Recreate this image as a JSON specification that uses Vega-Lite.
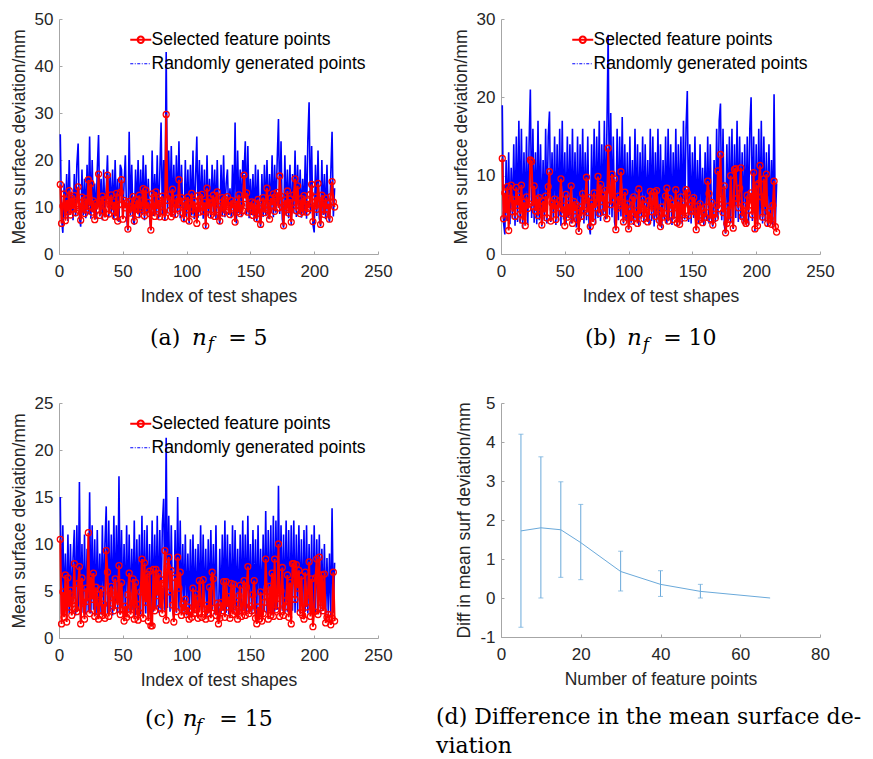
{
"$schema": "https://vega.github.io/schema/vega-lite/v6.json",
"background": "white",
"padding": {"left": 10, "top": 10, "right": 5, "bottom": 0},
"bounds": "flush",
"columns": 2,
"spacing": {"row": 149, "column": 123},
"resolve": {"scale": {"color": "independent", "x": "independent", "y": "independent"}, "legend": {"color": "independent"}},
"config": {
  "view": {"stroke": null},
  "axis": {"labelFont": "Liberation Sans", "labelFontSize": 17, "labelColor": "#262626", "titleFont": "Liberation Sans", "titleFontSize": 17.5, "titleFontWeight": "normal", "titleColor": "#262626", "domainColor": "#a6a6a6", "tickColor": "#a6a6a6", "tickSize": -3, "grid": false, "labelFlush": false, "labelOverlap": false},
  "axisX": {"labelPadding": 12, "titlePadding": 8},
  "axisY": {"labelPadding": 9, "titlePadding": 6},
  "legend": {"orient": "top-right", "offset": 11, "padding": 1, "labelFont": "Liberation Sans", "labelFontSize": 17.5, "labelColor": "#000000", "labelLimit": 0, "symbolSize": 441, "rowPadding": 5, "labelOffset": 2, "symbolStrokeWidth": 1.5}
},
"datasets": {
"s": [
{"i":1,"ra":14.8,"ba":25.5,"rb":12.2,"bb":19,"rc":10.5,"bc":15},
{"i":2,"ra":6.5,"ba":7.5,"rb":4.5,"bb":4,"rc":1.5,"bc":2.5},
{"i":3,"ra":10.2,"ba":4.5,"rb":7.8,"bb":2.5,"rc":4.9,"bc":12},
{"i":4,"ra":12.8,"ba":15,"rb":5.2,"bb":12,"rc":2.2,"bc":2.8},
{"i":5,"ra":7.1,"ba":8,"rb":8.6,"bb":4.2,"rc":6.7,"bc":9},
{"i":6,"ra":11.5,"ba":17,"rb":3.0,"bb":13,"rc":1.7,"bc":2.3},
{"i":7,"ra":9.0,"ba":7,"rb":7.1,"bb":3.8,"rc":6.4,"bc":11},
{"i":8,"ra":13.5,"ba":20,"rb":8.8,"bb":11,"rc":3.3,"bc":2.6},
{"i":9,"ra":8.3,"ba":8.5,"rb":5.4,"bb":4.5,"rc":5.1,"bc":10},
{"i":10,"ra":11.9,"ba":13,"rb":6.9,"bb":14,"rc":2.4,"bc":3},
{"i":11,"ra":9.6,"ba":7.2,"rb":4.8,"bb":3.6,"rc":4.0,"bc":8.5},
{"i":12,"ra":12.4,"ba":17,"rb":8.5,"bb":15,"rc":7.9,"bc":11.5},
{"i":13,"ra":8.8,"ba":8,"rb":6.2,"bb":4.1,"rc":3.1,"bc":2.4},
{"i":14,"ra":10.7,"ba":19,"rb":7.4,"bb":17,"rc":2.8,"bc":12},
{"i":15,"ra":14.3,"ba":23.5,"rb":5.1,"bb":3.9,"rc":5.8,"bc":2.9},
{"i":16,"ra":9.2,"ba":7.8,"rb":8.8,"bb":16,"rc":7.6,"bc":16.6},
{"i":17,"ra":7.2,"ba":5.8,"rb":4.3,"bb":3.3,"rc":1.5,"bc":2},
{"i":18,"ra":12.1,"ba":18,"rb":6.6,"bb":13,"rc":6.4,"bc":10},
{"i":19,"ra":10.3,"ba":8.2,"rb":3.6,"bb":4.4,"rc":3.7,"bc":2.7},
{"i":20,"ra":8.6,"ba":16,"rb":7.3,"bb":15,"rc":2.0,"bc":11},
{"i":21,"ra":11.8,"ba":7.6,"rb":5.8,"bb":3.7,"rc":5.3,"bc":2.5},
{"i":22,"ra":9.4,"ba":19,"rb":6.4,"bb":14,"rc":3.9,"bc":9.5},
{"i":23,"ra":15.8,"ba":8.4,"rb":12.0,"bb":21,"rc":11.2,"bc":2.8},
{"i":24,"ra":10.1,"ba":25,"rb":11.8,"bb":4.6,"rc":2.6,"bc":15.5},
{"i":25,"ra":15.0,"ba":7.5,"rb":6.1,"bb":16,"rc":6.5,"bc":2.6},
{"i":26,"ra":8.9,"ba":20,"rb":8.7,"bb":4,"rc":4.1,"bc":12},
{"i":27,"ra":11.3,"ba":8.8,"rb":5.5,"bb":13,"rc":6.9,"bc":3},
{"i":28,"ra":7.3,"ba":15,"rb":7.0,"bb":3.8,"rc":2.3,"bc":10.5},
{"i":29,"ra":10.8,"ba":7.4,"rb":4.9,"bb":17,"rc":5.4,"bc":2.4},
{"i":30,"ra":9.5,"ba":18,"rb":7.2,"bb":4.3,"rc":3.8,"bc":11.5},
{"i":31,"ra":17.0,"ba":25.3,"rb":6.0,"bb":14,"rc":2.0,"bc":2.7},
{"i":32,"ra":8.2,"ba":8,"rb":3.7,"bb":3.5,"rc":4.6,"bc":9},
{"i":33,"ra":10.6,"ba":16,"rb":6.8,"bb":12,"rc":5.2,"bc":2.5},
{"i":34,"ra":12.3,"ba":7.2,"rb":5.3,"bb":4.2,"rc":2.4,"bc":12},
{"i":35,"ra":9.1,"ba":18,"rb":7.4,"bb":16,"rc":3.6,"bc":2.9},
{"i":36,"ra":7.8,"ba":8.5,"rb":4.6,"bb":3.9,"rc":2.1,"bc":10},
{"i":37,"ra":11.7,"ba":14,"rb":8.6,"bb":15,"rc":9.3,"bc":14},
{"i":38,"ra":16.8,"ba":21,"rb":10.5,"bb":18.2,"rc":7.0,"bc":2.6},
{"i":39,"ra":8.5,"ba":7.8,"rb":4.2,"bb":4.1,"rc":2.3,"bc":12.5},
{"i":40,"ra":10.4,"ba":17,"rb":6.5,"bb":13,"rc":4.8,"bc":2.8},
{"i":41,"ra":12.6,"ba":8.6,"rb":5.7,"bb":4.5,"rc":5.5,"bc":11},
{"i":42,"ra":9.3,"ba":18,"rb":7.0,"bb":15,"rc":3.7,"bc":2.4},
{"i":43,"ra":11.1,"ba":7.3,"rb":4.4,"bb":3.7,"rc":2.9,"bc":13},
{"i":44,"ra":8.0,"ba":20,"rb":6.3,"bb":14,"rc":6.3,"bc":3.1},
{"i":45,"ra":12.9,"ba":8.1,"rb":5.9,"bb":4.2,"rc":4.2,"bc":12},
{"i":46,"ra":7.0,"ba":16,"rb":6.8,"bb":16,"rc":3.5,"bc":2.7},
{"i":47,"ra":10.5,"ba":6.8,"rb":9.6,"bb":3.6,"rc":7.7,"bc":17.2},
{"i":48,"ra":13.1,"ba":19,"rb":5.2,"bb":17,"rc":2.5,"bc":2.5},
{"i":49,"ra":15.8,"ba":18,"rb":6.1,"bb":4.4,"rc":5.9,"bc":11.5},
{"i":50,"ra":7.4,"ba":7.5,"rb":3.6,"bb":13,"rc":3.0,"bc":2.9},
{"i":51,"ra":11.4,"ba":15,"rb":7.6,"bb":3.8,"rc":1.8,"bc":10},
{"i":52,"ra":9.8,"ba":21,"rb":4.7,"bb":15,"rc":3.4,"bc":2.3},
{"i":53,"ra":10.9,"ba":7.9,"rb":6.4,"bb":4.6,"rc":2.2,"bc":12},
{"i":54,"ra":5.3,"ba":5,"rb":5.0,"bb":14,"rc":4.6,"bc":2.8},
{"i":55,"ra":11.2,"ba":26,"rb":8.7,"bb":3.9,"rc":6.9,"bc":11},
{"i":56,"ra":8.7,"ba":8.2,"rb":3.9,"bb":16,"rc":2.5,"bc":2.6},
{"i":57,"ra":10.0,"ba":19,"rb":6.7,"bb":4.2,"rc":3.3,"bc":9.5},
{"i":58,"ra":12.2,"ba":7.4,"rb":5.5,"bb":13,"rc":6.3,"bc":3},
{"i":59,"ra":7.0,"ba":6.2,"rb":6.3,"bb":3.4,"rc":2.0,"bc":12.5},
{"i":60,"ra":9.9,"ba":18,"rb":4.4,"bb":15,"rc":5.9,"bc":2.4},
{"i":61,"ra":11.6,"ba":8.7,"rb":2.9,"bb":2.8,"rc":3.6,"bc":10.5},
{"i":62,"ra":8.4,"ba":20,"rb":6.0,"bb":14,"rc":1.9,"bc":2.7},
{"i":63,"ra":12.5,"ba":7.6,"rb":4.8,"bb":4.5,"rc":2.7,"bc":11},
{"i":64,"ra":9.7,"ba":18,"rb":7.7,"bb":16,"rc":4.9,"bc":2.5},
{"i":65,"ra":10.3,"ba":8.3,"rb":5.6,"bb":3.9,"rc":8.4,"bc":13},
{"i":66,"ra":13.9,"ba":21,"rb":6.9,"bb":13,"rc":2.1,"bc":2.9},
{"i":67,"ra":8.1,"ba":7.2,"rb":9.8,"bb":4.3,"rc":8.0,"bc":11.5},
{"i":68,"ra":13.6,"ba":19,"rb":5.3,"bb":15,"rc":3.8,"bc":2.6},
{"i":69,"ra":9.5,"ba":8.5,"rb":7.2,"bb":3.6,"rc":6.8,"bc":12},
{"i":70,"ra":11.0,"ba":16,"rb":3.5,"bb":2.5,"rc":1.8,"bc":2.2},
{"i":71,"ra":8.6,"ba":7.7,"rb":6.5,"bb":14,"rc":7.1,"bc":10},
{"i":72,"ra":5.1,"ba":5,"rb":4.1,"bb":4.1,"rc":1.3,"bc":1.8},
{"i":73,"ra":12.8,"ba":22,"rb":7.8,"bb":16,"rc":1.3,"bc":12.5},
{"i":74,"ra":10.2,"ba":8.1,"rb":5.9,"bb":3.8,"rc":7.3,"bc":2.8},
{"i":75,"ra":8.0,"ba":17,"rb":6.6,"bb":15,"rc":2.9,"bc":11},
{"i":76,"ra":13.2,"ba":8.4,"rb":9.9,"bb":4.6,"rc":7.3,"bc":3.1},
{"i":77,"ra":9.6,"ba":21,"rb":5.2,"bb":17,"rc":4.5,"bc":13},
{"i":78,"ra":11.5,"ba":7.5,"rb":8.9,"bb":4.2,"rc":6.9,"bc":2.7},
{"i":79,"ra":7.9,"ba":17,"rb":6.7,"bb":14,"rc":3.2,"bc":11.5},
{"i":80,"ra":10.8,"ba":28,"rb":7.5,"bb":4.9,"rc":6.2,"bc":3},
{"i":81,"ra":12.3,"ba":8.2,"rb":5.4,"bb":17,"rc":2.6,"bc":12},
{"i":82,"ra":9.0,"ba":20,"rb":8.1,"bb":4.4,"rc":5.8,"bc":14.8},
{"i":83,"ra":7.8,"ba":7,"rb":4.5,"bb":16,"rc":9.3,"bc":2.9},
{"i":84,"ra":29.7,"ba":43,"rb":13.5,"bb":28,"rc":1.9,"bc":21.3},
{"i":85,"ra":11.4,"ba":8.6,"rb":8.2,"bb":5,"rc":7.6,"bc":3.2},
{"i":86,"ra":12.6,"ba":22,"rb":6.3,"bb":18,"rc":8.6,"bc":13},
{"i":87,"ra":9.3,"ba":9,"rb":10.2,"bb":4.7,"rc":4.9,"bc":2.8},
{"i":88,"ra":7.9,"ba":23,"rb":7.0,"bb":15,"rc":7.2,"bc":12},
{"i":89,"ra":13.8,"ba":8.3,"rb":9.6,"bb":4.1,"rc":3.5,"bc":3},
{"i":90,"ra":10.7,"ba":19,"rb":3.1,"bb":3,"rc":1.7,"bc":2.2},
{"i":91,"ra":8.4,"ba":7.8,"rb":5.8,"bb":16,"rc":6.4,"bc":11.5},
{"i":92,"ra":11.9,"ba":21,"rb":7.4,"bb":4.3,"rc":2.8,"bc":2.7},
{"i":93,"ra":9.7,"ba":8.5,"rb":6.2,"bb":15,"rc":8.6,"bc":15},
{"i":94,"ra":15.8,"ba":24,"rb":10.5,"bb":4.8,"rc":5.3,"bc":2.9},
{"i":95,"ra":10.5,"ba":7.6,"rb":6.6,"bb":17.5,"rc":7.0,"bc":12.5},
{"i":96,"ra":12.0,"ba":19,"rb":4.1,"bb":3.9,"rc":2.4,"bc":2.6},
{"i":97,"ra":8.8,"ba":8.8,"rb":7.9,"bb":14,"rc":3.6,"bc":10},
{"i":98,"ra":7.5,"ba":6.8,"rb":5.0,"bb":4.2,"rc":2.9,"bc":2.8},
{"i":99,"ra":11.3,"ba":20,"rb":6.4,"bb":13,"rc":4.1,"bc":11},
{"i":100,"ra":9.4,"ba":7.9,"rb":3.2,"bb":3.1,"rc":2.5,"bc":2.4},
{"i":101,"ra":12.1,"ba":18,"rb":5.6,"bb":15,"rc":3.3,"bc":9},
{"i":102,"ra":7.0,"ba":6.5,"rb":4.2,"bb":4,"rc":2.0,"bc":2.6},
{"i":103,"ra":10.6,"ba":19,"rb":6.9,"bb":12,"rc":2.8,"bc":10.5},
{"i":104,"ra":12.9,"ba":8.2,"rb":7.3,"bb":3.7,"rc":2.2,"bc":2.3},
{"i":105,"ra":8.5,"ba":22,"rb":4.6,"bb":16,"rc":5.3,"bc":11},
{"i":106,"ra":11.2,"ba":7.4,"rb":5.5,"bb":4.3,"rc":2.6,"bc":2.8},
{"i":107,"ra":9.9,"ba":16,"rb":3.9,"bb":14,"rc":4.7,"bc":9.5},
{"i":108,"ra":6.5,"ba":25,"rb":8.3,"bb":3.6,"rc":3.0,"bc":2.5},
{"i":109,"ra":12.4,"ba":7.7,"rb":5.1,"bb":13,"rc":2.1,"bc":10},
{"i":110,"ra":8.9,"ba":20,"rb":6.0,"bb":4.5,"rc":6.1,"bc":2.9},
{"i":111,"ra":10.4,"ba":8.4,"rb":7.0,"bb":15,"rc":3.8,"bc":12},
{"i":112,"ra":12.7,"ba":19,"rb":4.5,"bb":3.9,"rc":2.2,"bc":2.6},
{"i":113,"ra":9.1,"ba":7.5,"rb":6.2,"bb":14,"rc":6.2,"bc":11},
{"i":114,"ra":11.0,"ba":18,"rb":5.3,"bb":4.4,"rc":3.1,"bc":2.8},
{"i":115,"ra":6.0,"ba":5.5,"rb":4.1,"bb":12,"rc":2.0,"bc":9.5},
{"i":116,"ra":14.0,"ba":21,"rb":6.8,"bb":3.8,"rc":3.5,"bc":2.4},
{"i":117,"ra":9.6,"ba":8.1,"rb":8.0,"bb":16,"rc":2.6,"bc":10.5},
{"i":118,"ra":11.8,"ba":16,"rb":5.4,"bb":4.2,"rc":5.4,"bc":2.7},
{"i":119,"ra":8.3,"ba":7.6,"rb":6.3,"bb":15,"rc":2.1,"bc":11.5},
{"i":120,"ra":10.9,"ba":19,"rb":7.9,"bb":3.5,"rc":7.0,"bc":3},
{"i":121,"ra":12.5,"ba":8.9,"rb":4.8,"bb":13,"rc":6.3,"bc":10},
{"i":122,"ra":8.0,"ba":18,"rb":8.1,"bb":4.1,"rc":3.2,"bc":2.5},
{"i":123,"ra":11.1,"ba":7.3,"rb":5.7,"bb":16,"rc":2.4,"bc":12},
{"i":124,"ra":13.2,"ba":20,"rb":4.3,"bb":3.6,"rc":3.7,"bc":2.8},
{"i":125,"ra":9.4,"ba":8.5,"rb":3.5,"bb":14,"rc":1.5,"bc":2},
{"i":126,"ra":7.0,"ba":6.4,"rb":6.0,"bb":3.3,"rc":2.1,"bc":9.5},
{"i":127,"ra":10.2,"ba":19,"rb":4.7,"bb":12,"rc":3.8,"bc":2.6},
{"i":128,"ra":12.0,"ba":8,"rb":5.2,"bb":4.4,"rc":2.9,"bc":11},
{"i":129,"ra":8.7,"ba":21,"rb":7.4,"bb":15,"rc":6.0,"bc":2.9},
{"i":130,"ra":11.6,"ba":7.8,"rb":8.4,"bb":3.9,"rc":2.2,"bc":12.5},
{"i":131,"ra":9.3,"ba":15,"rb":4.2,"bb":16,"rc":6.0,"bc":2.7},
{"i":132,"ra":12.2,"ba":18,"rb":7.1,"bb":4.3,"rc":3.3,"bc":11},
{"i":133,"ra":10.0,"ba":8.3,"rb":5.8,"bb":14,"rc":4.4,"bc":2.5},
{"i":134,"ra":8.4,"ba":14,"rb":6.5,"bb":3.7,"rc":2.1,"bc":10},
{"i":135,"ra":11.4,"ba":7.6,"rb":4.4,"bb":13,"rc":5.8,"bc":2.8},
{"i":136,"ra":9.8,"ba":19,"rb":5.9,"bb":4.5,"rc":2.5,"bc":12},
{"i":137,"ra":10.7,"ba":8.2,"rb":8.2,"bb":16,"rc":5.7,"bc":2.6},
{"i":138,"ra":6.8,"ba":28,"rb":4.0,"bb":3.5,"rc":3.6,"bc":11.5},
{"i":139,"ra":11.3,"ba":6.5,"rb":6.7,"bb":14,"rc":2.8,"bc":2.9},
{"i":140,"ra":9.0,"ba":22,"rb":3.8,"bb":4.2,"rc":2.0,"bc":9.5},
{"i":141,"ra":12.6,"ba":8.7,"rb":7.3,"bb":15,"rc":4.5,"bc":2.4},
{"i":142,"ra":8.6,"ba":18,"rb":5.0,"bb":3.8,"rc":5.6,"bc":11},
{"i":143,"ra":10.5,"ba":7.8,"rb":6.4,"bb":17,"rc":2.3,"bc":2.7},
{"i":144,"ra":9.2,"ba":20,"rb":4.6,"bb":4.4,"rc":3.2,"bc":12.5},
{"i":145,"ra":16.8,"ba":17,"rb":8.2,"bb":16,"rc":6.1,"bc":2.9},
{"i":146,"ra":11.8,"ba":24,"rb":7.8,"bb":20.8,"rc":2.4,"bc":11},
{"i":147,"ra":13.0,"ba":8.4,"rb":4.9,"bb":4.1,"rc":5.4,"bc":2.6},
{"i":148,"ra":8.9,"ba":23,"rb":6.2,"bb":14,"rc":7.6,"bc":13},
{"i":149,"ra":10.3,"ba":7.6,"rb":5.5,"bb":3.9,"rc":2.6,"bc":2.8},
{"i":150,"ra":9.5,"ba":16,"rb":6.8,"bb":13,"rc":3.4,"bc":10},
{"i":151,"ra":11.1,"ba":8.3,"rb":7.2,"bb":4.6,"rc":2.9,"bc":2.5},
{"i":152,"ra":8.2,"ba":17,"rb":5.4,"bb":15,"rc":4.6,"bc":11.5},
{"i":153,"ra":10.8,"ba":7.2,"rb":3.1,"bb":3,"rc":6.1,"bc":2.9},
{"i":154,"ra":9.0,"ba":19,"rb":6.1,"bb":12,"rc":2.1,"bc":10.5},
{"i":155,"ra":7.5,"ba":6.9,"rb":4.3,"bb":3.8,"rc":1.5,"bc":2.1},
{"i":156,"ra":11.6,"ba":18,"rb":6.4,"bb":14,"rc":3.3,"bc":12},
{"i":157,"ra":10.1,"ba":8.1,"rb":5.7,"bb":4.3,"rc":2.0,"bc":2.7},
{"i":158,"ra":6.3,"ba":5.8,"rb":4.0,"bb":11,"rc":4.9,"bc":9.5},
{"i":159,"ra":9.7,"ba":17,"rb":5.2,"bb":3.6,"rc":1.8,"bc":2.4},
{"i":160,"ra":12.0,"ba":7.9,"rb":4.7,"bb":13,"rc":2.6,"bc":11},
{"i":161,"ra":8.8,"ba":19,"rb":6.0,"bb":4.2,"rc":3.8,"bc":2.8},
{"i":162,"ra":10.6,"ba":8.2,"rb":9.3,"bb":15,"rc":8.4,"bc":13.5},
{"i":163,"ra":14.0,"ba":20,"rb":7.7,"bb":3.9,"rc":4.4,"bc":2.6},
{"i":164,"ra":9.3,"ba":7.5,"rb":4.5,"bb":14,"rc":2.0,"bc":11.5},
{"i":165,"ra":7.4,"ba":17,"rb":6.6,"bb":4.4,"rc":5.5,"bc":2.9},
{"i":166,"ra":11.9,"ba":8.6,"rb":3.7,"bb":3.5,"rc":2.4,"bc":12},
{"i":167,"ra":10.4,"ba":21,"rb":5.1,"bb":12,"rc":6.9,"bc":2.5},
{"i":168,"ra":12.8,"ba":7.8,"rb":4.6,"bb":4.1,"rc":2.3,"bc":13},
{"i":169,"ra":9.1,"ba":19,"rb":6.2,"bb":16,"rc":8.4,"bc":2.8},
{"i":170,"ra":11.2,"ba":8.8,"rb":10.6,"bb":4.5,"rc":3.0,"bc":12.5},
{"i":171,"ra":13.1,"ba":20,"rb":5.8,"bb":17,"rc":4.2,"bc":3},
{"i":172,"ra":9.8,"ba":28.7,"rb":12.7,"bb":19.2,"rc":10.0,"bc":16.2},
{"i":173,"ra":16.6,"ba":8.5,"rb":7.0,"bb":4.3,"rc":2.3,"bc":2.7},
{"i":174,"ra":12.3,"ba":24,"rb":5.3,"bb":16,"rc":5.0,"bc":12},
{"i":175,"ra":10.0,"ba":7.4,"rb":8.7,"bb":3.7,"rc":7.5,"bc":2.9},
{"i":176,"ra":6.0,"ba":5.6,"rb":2.7,"bb":2.6,"rc":2.4,"bc":11},
{"i":177,"ra":11.5,"ba":21,"rb":3.9,"bb":14,"rc":3.3,"bc":2.6},
{"i":178,"ra":9.4,"ba":8.2,"rb":6.1,"bb":4.2,"rc":4.0,"bc":12.5},
{"i":179,"ra":13.4,"ba":18,"rb":4.4,"bb":15,"rc":6.7,"bc":2.8},
{"i":180,"ra":8.7,"ba":7.6,"rb":10.0,"bb":3.9,"rc":2.2,"bc":11.5},
{"i":181,"ra":11.7,"ba":19,"rb":6.4,"bb":16,"rc":5.9,"bc":2.5},
{"i":182,"ra":6.8,"ba":6.2,"rb":3.3,"bb":3.2,"rc":1.5,"bc":12},
{"i":183,"ra":10.9,"ba":17,"rb":10.8,"bb":14,"rc":7.9,"bc":2.9},
{"i":184,"ra":12.6,"ba":8.7,"rb":10.9,"bb":4.6,"rc":7.9,"bc":12.5},
{"i":185,"ra":16.0,"ba":22,"rb":7.1,"bb":17,"rc":4.1,"bc":2.7},
{"i":186,"ra":9.2,"ba":7.9,"rb":5.9,"bb":4.1,"rc":7.8,"bc":11},
{"i":187,"ra":14.5,"ba":19,"rb":8.4,"bb":15,"rc":5.3,"bc":2.8},
{"i":188,"ra":10.3,"ba":8.4,"rb":11.0,"bb":4.4,"rc":7.2,"bc":12},
{"i":189,"ra":8.6,"ba":18,"rb":4.8,"bb":13,"rc":2.7,"bc":2.6},
{"i":190,"ra":11.8,"ba":7.7,"rb":6.2,"bb":3.8,"rc":6.6,"bc":10.5},
{"i":191,"ra":9.0,"ba":16,"rb":4.2,"bb":14,"rc":2.4,"bc":2.4},
{"i":192,"ra":12.4,"ba":8.3,"rb":3.9,"bb":4.3,"rc":2.0,"bc":11.5},
{"i":193,"ra":10.6,"ba":21,"rb":7.5,"bb":15,"rc":7.0,"bc":2.8},
{"i":194,"ra":8.9,"ba":7.5,"rb":5.6,"bb":3.7,"rc":3.3,"bc":12},
{"i":195,"ra":11.3,"ba":24,"rb":6.9,"bb":16,"rc":4.6,"bc":2.6},
{"i":196,"ra":9.7,"ba":32.3,"rb":7.8,"bb":20,"rc":8.1,"bc":10},
{"i":197,"ra":12.7,"ba":8.6,"rb":5.0,"bb":4.2,"rc":2.3,"bc":2.9},
{"i":198,"ra":14.8,"ba":23,"rb":10.4,"bb":15,"rc":6.3,"bc":11},
{"i":199,"ra":6.9,"ba":6.3,"rb":3.2,"bb":2.9,"rc":1.2,"bc":1.9},
{"i":200,"ra":10.2,"ba":4.6,"rb":8.8,"bb":14,"rc":2.8,"bc":12},
{"i":201,"ra":12.1,"ba":19,"rb":3.6,"bb":3.6,"rc":6.4,"bc":2.7},
{"i":202,"ra":9.5,"ba":8.1,"rb":9.0,"bb":16,"rc":8.4,"bc":10.5},
{"i":203,"ra":15.0,"ba":22,"rb":11.3,"bb":4.4,"rc":2.5,"bc":2.8},
{"i":204,"ra":11.0,"ba":7.6,"rb":7.3,"bb":17,"rc":8.6,"bc":11},
{"i":205,"ra":6.3,"ba":5.9,"rb":4.7,"bb":3.9,"rc":3.2,"bc":2.5},
{"i":206,"ra":12.5,"ba":20,"rb":9.6,"bb":15,"rc":6.7,"bc":9.5},
{"i":207,"ra":10.8,"ba":8.3,"rb":6.0,"bb":4.2,"rc":2.9,"bc":2.9},
{"i":208,"ra":8.4,"ba":17,"rb":10.2,"bb":13,"rc":6.8,"bc":10},
{"i":209,"ra":11.9,"ba":7.4,"rb":3.9,"bb":3.5,"rc":1.6,"bc":2.4},
{"i":210,"ra":9.6,"ba":19,"rb":5.4,"bb":14,"rc":2.2,"bc":8.5},
{"i":211,"ra":10.7,"ba":8.5,"rb":4.5,"bb":3.8,"rc":2.5,"bc":2.6},
{"i":212,"ra":7.4,"ba":6.8,"rb":3.8,"bb":12,"rc":2.0,"bc":9},
{"i":213,"ra":12.2,"ba":17,"rb":6.2,"bb":3.3,"rc":1.4,"bc":2.2},
{"i":214,"ra":15.4,"ba":26,"rb":9.3,"bb":20.4,"rc":2.1,"bc":13.8},
{"i":215,"ra":11.1,"ba":8,"rb":3.5,"bb":4,"rc":7.0,"bc":2.7},
{"i":216,"ra":10.0,"ba":14,"rb":2.8,"bb":9,"rc":1.8,"bc":8}
],
"d": [
{"n":5,"m":1.72,"lo":-0.75,"hi":4.2},
{"n":10,"m":1.8,"lo":0,"hi":3.62},
{"n":15,"m":1.75,"lo":0.53,"hi":2.98},
{"n":20,"m":1.42,"lo":0.47,"hi":2.4},
{"n":30,"m":0.68,"lo":0.18,"hi":1.2},
{"n":40,"m":0.35,"lo":0.04,"hi":0.7},
{"n":50,"m":0.17,"lo":0,"hi":0.35},
{"n":67.5,"m":0}
]
},
"concat": [
{
  "width": 319, "height": 235,
  "data": {"name": "s"},
  "layer": [
    {"mark": {"type": "line", "strokeWidth": 1.6},
     "encoding": {
       "x": {"field": "i", "type": "quantitative", "scale": {"domain": [0, 250], "nice": false}, "axis": {"values": [0, 50, 100, 150, 200, 250], "tickCount": 10, "format": "d", "title": "Index of test shapes"}},
       "y": {"field": "ba", "type": "quantitative", "scale": {"domain": [0, 50], "nice": false}, "axis": {"values": [0, 10, 20, 30, 40, 50], "tickCount": 10, "format": "d", "title": "Mean surface deviation/mm"}},
       "color": {"datum": "Randomly generated points", "type": "nominal", "scale": {"domain": ["Selected feature points", "Randomly generated points"], "range": ["#ff0000", "#0000ff"]},
         "legend": {"title": null, "encode": {"symbols": {"update": {
           "shape": {"signal": "datum.value === 'Selected feature points' ? 'M-1,0H1M0.3,0A0.3,0.3,0,1,1,-0.3,0A0.3,0.3,0,1,1,0.3,0' : 'M-1,0H1'"},
           "strokeDash": {"signal": "datum.value === 'Selected feature points' ? [] : [3,1.5,1,1.5]"},
           "strokeWidth": {"signal": "datum.value === 'Selected feature points' ? 2 : 1"},
           "fill": {"value": "transparent"}}}}}}
     }},
    {"mark": {"type": "line", "strokeWidth": 2, "point": {"filled": false, "size": 36, "strokeWidth": 1.3}},
     "encoding": {
       "x": {"field": "i", "type": "quantitative", "scale": {"domain": [0, 250], "nice": false}, "axis": {"values": [0, 50, 100, 150, 200, 250], "tickCount": 10, "format": "d", "title": "Index of test shapes"}},
       "y": {"field": "ra", "type": "quantitative", "scale": {"domain": [0, 50], "nice": false}, "axis": {"values": [0, 10, 20, 30, 40, 50], "tickCount": 10, "format": "d", "title": "Mean surface deviation/mm"}},
       "color": {"datum": "Selected feature points", "type": "nominal"}
     }},
    {"data": {"values": [{}]}, "mark": {"type": "text", "font": "DejaVu Serif", "fontSize": 22, "align": "left", "baseline": "alphabetic", "color": "#000000", "text": "(a)"},
     "encoding": {"x": {"datum": 71.3, "type": "quantitative"}, "y": {"datum": -19.3, "type": "quantitative"}}},
    {"data": {"values": [{}]}, "mark": {"type": "text", "font": "DejaVu Serif", "fontStyle": "italic", "fontSize": 23, "align": "left", "baseline": "alphabetic", "color": "#000000", "text": "n"},
     "encoding": {"x": {"datum": 104.2, "type": "quantitative"}, "y": {"datum": -19.3, "type": "quantitative"}}},
    {"data": {"values": [{}]}, "mark": {"type": "text", "font": "DejaVu Serif", "fontStyle": "italic", "fontSize": 17, "align": "left", "baseline": "alphabetic", "color": "#000000", "text": "f"},
     "encoding": {"x": {"datum": 116.5, "type": "quantitative"}, "y": {"datum": -20.3, "type": "quantitative"}}},
    {"data": {"values": [{}]}, "mark": {"type": "text", "font": "DejaVu Serif", "fontSize": 22, "align": "left", "baseline": "alphabetic", "color": "#000000", "text": "= 5"},
     "encoding": {"x": {"datum": 132.6, "type": "quantitative"}, "y": {"datum": -19.3, "type": "quantitative"}}}
  ]
},
{
  "width": 319, "height": 235,
  "data": {"name": "s"},
  "layer": [
    {"mark": {"type": "line", "strokeWidth": 1.6},
     "encoding": {
       "x": {"field": "i", "type": "quantitative", "scale": {"domain": [0, 250], "nice": false}, "axis": {"values": [0, 50, 100, 150, 200, 250], "tickCount": 10, "format": "d", "title": "Index of test shapes"}},
       "y": {"field": "bb", "type": "quantitative", "scale": {"domain": [0, 30], "nice": false}, "axis": {"values": [0, 10, 20, 30], "tickCount": 10, "format": "d", "title": "Mean surface deviation/mm"}},
       "color": {"datum": "Randomly generated points", "type": "nominal", "scale": {"domain": ["Selected feature points", "Randomly generated points"], "range": ["#ff0000", "#0000ff"]},
         "legend": {"title": null, "encode": {"symbols": {"update": {
           "shape": {"signal": "datum.value === 'Selected feature points' ? 'M-1,0H1M0.3,0A0.3,0.3,0,1,1,-0.3,0A0.3,0.3,0,1,1,0.3,0' : 'M-1,0H1'"},
           "strokeDash": {"signal": "datum.value === 'Selected feature points' ? [] : [3,1.5,1,1.5]"},
           "strokeWidth": {"signal": "datum.value === 'Selected feature points' ? 2 : 1"},
           "fill": {"value": "transparent"}}}}}}
     }},
    {"mark": {"type": "line", "strokeWidth": 2, "point": {"filled": false, "size": 36, "strokeWidth": 1.3}},
     "encoding": {
       "x": {"field": "i", "type": "quantitative", "scale": {"domain": [0, 250], "nice": false}, "axis": {"values": [0, 50, 100, 150, 200, 250], "tickCount": 10, "format": "d", "title": "Index of test shapes"}},
       "y": {"field": "rb", "type": "quantitative", "scale": {"domain": [0, 30], "nice": false}, "axis": {"values": [0, 10, 20, 30], "tickCount": 10, "format": "d", "title": "Mean surface deviation/mm"}},
       "color": {"datum": "Selected feature points", "type": "nominal"}
     }},
    {"data": {"values": [{}]}, "mark": {"type": "text", "font": "DejaVu Serif", "fontSize": 22, "align": "left", "baseline": "alphabetic", "color": "#000000", "text": "(b)"},
     "encoding": {"x": {"datum": 65.8, "type": "quantitative"}, "y": {"datum": -11.58, "type": "quantitative"}}},
    {"data": {"values": [{}]}, "mark": {"type": "text", "font": "DejaVu Serif", "fontStyle": "italic", "fontSize": 23, "align": "left", "baseline": "alphabetic", "color": "#000000", "text": "n"},
     "encoding": {"x": {"datum": 98.8, "type": "quantitative"}, "y": {"datum": -11.58, "type": "quantitative"}}},
    {"data": {"values": [{}]}, "mark": {"type": "text", "font": "DejaVu Serif", "fontStyle": "italic", "fontSize": 17, "align": "left", "baseline": "alphabetic", "color": "#000000", "text": "f"},
     "encoding": {"x": {"datum": 111.0, "type": "quantitative"}, "y": {"datum": -12.2, "type": "quantitative"}}},
    {"data": {"values": [{}]}, "mark": {"type": "text", "font": "DejaVu Serif", "fontSize": 22, "align": "left", "baseline": "alphabetic", "color": "#000000", "text": "= 10"},
     "encoding": {"x": {"datum": 127.1, "type": "quantitative"}, "y": {"datum": -11.58, "type": "quantitative"}}}
  ]
},
{
  "width": 319, "height": 235,
  "data": {"name": "s"},
  "layer": [
    {"mark": {"type": "line", "strokeWidth": 1.6},
     "encoding": {
       "x": {"field": "i", "type": "quantitative", "scale": {"domain": [0, 250], "nice": false}, "axis": {"values": [0, 50, 100, 150, 200, 250], "tickCount": 10, "format": "d", "title": "Index of test shapes"}},
       "y": {"field": "bc", "type": "quantitative", "scale": {"domain": [0, 25], "nice": false}, "axis": {"values": [0, 5, 10, 15, 20, 25], "tickCount": 10, "format": "d", "title": "Mean surface deviation/mm"}},
       "color": {"datum": "Randomly generated points", "type": "nominal", "scale": {"domain": ["Selected feature points", "Randomly generated points"], "range": ["#ff0000", "#0000ff"]},
         "legend": {"title": null, "encode": {"symbols": {"update": {
           "shape": {"signal": "datum.value === 'Selected feature points' ? 'M-1,0H1M0.3,0A0.3,0.3,0,1,1,-0.3,0A0.3,0.3,0,1,1,0.3,0' : 'M-1,0H1'"},
           "strokeDash": {"signal": "datum.value === 'Selected feature points' ? [] : [3,1.5,1,1.5]"},
           "strokeWidth": {"signal": "datum.value === 'Selected feature points' ? 2 : 1"},
           "fill": {"value": "transparent"}}}}}}
     }},
    {"mark": {"type": "line", "strokeWidth": 2, "point": {"filled": false, "size": 36, "strokeWidth": 1.3}},
     "encoding": {
       "x": {"field": "i", "type": "quantitative", "scale": {"domain": [0, 250], "nice": false}, "axis": {"values": [0, 50, 100, 150, 200, 250], "tickCount": 10, "format": "d", "title": "Index of test shapes"}},
       "y": {"field": "rc", "type": "quantitative", "scale": {"domain": [0, 25], "nice": false}, "axis": {"values": [0, 5, 10, 15, 20, 25], "tickCount": 10, "format": "d", "title": "Mean surface deviation/mm"}},
       "color": {"datum": "Selected feature points", "type": "nominal"}
     }},
    {"data": {"values": [{}]}, "mark": {"type": "text", "font": "DejaVu Serif", "fontSize": 22, "align": "left", "baseline": "alphabetic", "color": "#000000", "text": "(c)"},
     "encoding": {"x": {"datum": 67.4, "type": "quantitative"}, "y": {"datum": -9.4, "type": "quantitative"}}},
    {"data": {"values": [{}]}, "mark": {"type": "text", "font": "DejaVu Serif", "fontStyle": "italic", "fontSize": 23, "align": "left", "baseline": "alphabetic", "color": "#000000", "text": "n"},
     "encoding": {"x": {"datum": 97.0, "type": "quantitative"}, "y": {"datum": -9.4, "type": "quantitative"}}},
    {"data": {"values": [{}]}, "mark": {"type": "text", "font": "DejaVu Serif", "fontStyle": "italic", "fontSize": 17, "align": "left", "baseline": "alphabetic", "color": "#000000", "text": "f"},
     "encoding": {"x": {"datum": 107.3, "type": "quantitative"}, "y": {"datum": -9.93, "type": "quantitative"}}},
    {"data": {"values": [{}]}, "mark": {"type": "text", "font": "DejaVu Serif", "fontSize": 22, "align": "left", "baseline": "alphabetic", "color": "#000000", "text": "= 15"},
     "encoding": {"x": {"datum": 125.6, "type": "quantitative"}, "y": {"datum": -9.4, "type": "quantitative"}}}
  ]
},
{
  "width": 319, "height": 234,
  "data": {"name": "d"},
  "layer": [
    {"mark": {"type": "line", "color": "#6aa9da", "strokeWidth": 1},
     "encoding": {
       "x": {"field": "n", "type": "quantitative", "scale": {"domain": [0, 80], "nice": false}, "axis": {"values": [0, 20, 40, 60, 80], "tickCount": 10, "format": "d", "title": "Number of feature points"}},
       "y": {"field": "m", "type": "quantitative", "scale": {"domain": [-1, 5], "nice": false}, "axis": {"values": [-1, 0, 1, 2, 3, 4, 5], "tickCount": 10, "format": "d", "title": "Diff in mean surf deviation/mm", "labelExpr": "replace(datum.label, '\u2212', '-')"}}
     }},
    {"transform": [{"filter": "datum.lo != null"}],
     "mark": {"type": "rule", "color": "#6aa9da", "strokeWidth": 1},
     "encoding": {
       "x": {"field": "n", "type": "quantitative", "scale": {"domain": [0, 80], "nice": false}, "axis": {"values": [0, 20, 40, 60, 80], "tickCount": 10, "format": "d", "title": "Number of feature points"}},
       "y": {"field": "lo", "type": "quantitative", "scale": {"domain": [-1, 5], "nice": false}, "axis": {"values": [-1, 0, 1, 2, 3, 4, 5], "tickCount": 10, "format": "d", "title": "Diff in mean surf deviation/mm", "labelExpr": "replace(datum.label, '\u2212', '-')"}},
       "y2": {"field": "hi"}
     }},
    {"transform": [{"filter": "datum.lo != null"}],
     "mark": {"type": "tick", "orient": "horizontal", "color": "#6aa9da", "size": 5, "thickness": 1},
     "encoding": {
       "x": {"field": "n", "type": "quantitative", "scale": {"domain": [0, 80], "nice": false}, "axis": {"values": [0, 20, 40, 60, 80], "tickCount": 10, "format": "d", "title": "Number of feature points"}},
       "y": {"field": "lo", "type": "quantitative", "scale": {"domain": [-1, 5], "nice": false}, "axis": {"values": [-1, 0, 1, 2, 3, 4, 5], "tickCount": 10, "format": "d", "title": "Diff in mean surf deviation/mm", "labelExpr": "replace(datum.label, '\u2212', '-')"}}
     }},
    {"transform": [{"filter": "datum.lo != null"}],
     "mark": {"type": "tick", "orient": "horizontal", "color": "#6aa9da", "size": 5, "thickness": 1},
     "encoding": {
       "x": {"field": "n", "type": "quantitative", "scale": {"domain": [0, 80], "nice": false}, "axis": {"values": [0, 20, 40, 60, 80], "tickCount": 10, "format": "d", "title": "Number of feature points"}},
       "y": {"field": "hi", "type": "quantitative", "scale": {"domain": [-1, 5], "nice": false}, "axis": {"values": [-1, 0, 1, 2, 3, 4, 5], "tickCount": 10, "format": "d", "title": "Diff in mean surf deviation/mm", "labelExpr": "replace(datum.label, '\u2212', '-')"}}
     }},
    {"data": {"values": [{}]}, "mark": {"type": "text", "font": "DejaVu Serif", "fontSize": 22, "align": "left", "baseline": "alphabetic", "color": "#000000", "lineHeight": 29, "text": ["(d) Difference in the mean surface de-", "viation"]},
     "encoding": {"x": {"datum": -16.3, "type": "quantitative", "scale": {"domain": [0, 80], "nice": false}}, "y": {"datum": -3.23, "type": "quantitative", "scale": {"domain": [-1, 5], "nice": false}}}}
  ]
}
]
}
